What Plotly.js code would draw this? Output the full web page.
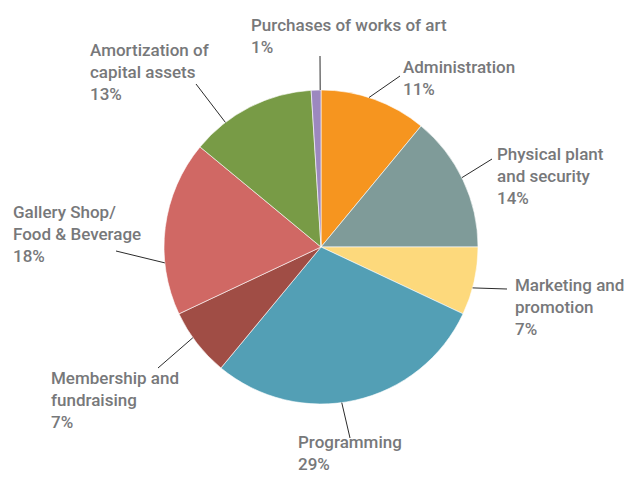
<!DOCTYPE html>
<html>
<head>
<meta charset="utf-8">
<script src="https://cdn.plot.ly/plotly-3.0.1.min.js"></script>
<style>html,body{margin:0;padding:0;background:#fff;}#chart{width:629px;height:477px;}</style>
</head>
<body>
<div id="chart"></div>
<script>
// ---- data ----
const categories = ['Administration', 'Physical plant and security', 'Marketing and promotion', 'Programming',
  'Membership and fundraising', 'Gallery Shop/ Food & Beverage', 'Amortization of capital assets', 'Purchases of works of art'];
const labelText = ['Administration', 'Physical plant<br>and security', 'Marketing and<br>promotion', 'Programming',
  'Membership and<br>fundraising', 'Gallery Shop/<br>Food & Beverage', 'Amortization of<br>capital assets', 'Purchases of works of art'];
const values = [11, 14, 7, 29, 7, 18, 13, 1];
const colors = ['#F6951F', '#7F9B99', '#FDD97C', '#539FB5', '#A04D45', '#D06864', '#789B46', '#9C88BF'];

// ---- layout config (pixels / degrees) ----
const W = 629, H = 477;
const CX = 321, CY = 247, R = 157;
// text box left / first-line centre, leader line end, leader anchor angle tweak (deg)
const labelPos = [
  {tx: 402, ty: 68,  ex: 400, ey: 76,  da: -2},
  {tx: 496, ty: 155, ex: 492, ey: 159, da: -1},
  {tx: 514, ty: 286, ex: 507, ey: 289, da: 2.5},
  {tx: 297, ty: 443, ex: 350, ey: 438, da: 5},
  {tx: 50,  ty: 379, ex: 158, ey: 368, da: 2.5},
  {tx: 12,  ty: 213, ex: 116, ey: 251, da: -13},
  {tx: 89,  ty: 51,  ex: 196, ey: 84,  da: -10.5},
  {tx: 250, ty: 26,  ex: 320, ey: 56,  da: 1.5}
];

const px = x => x / W;
const py = y => 1 - y / H;

const total = values.reduce((a, b) => a + b, 0);
const shapes = [];
const annotations = [];
let cum = 0;
values.forEach((v, i) => {
  const p = labelPos[i];
  const mid = (cum + v / 2) / total * 2 * Math.PI + p.da * Math.PI / 180;
  cum += v;
  const sx = CX + R * Math.sin(mid);
  const sy = CY - R * Math.cos(mid);
  shapes.push({type: 'line', xref: 'paper', yref: 'paper',
    x0: px(sx), y0: py(sy), x1: px(p.ex), y1: py(p.ey),
    line: {color: '#2b2b2b', width: 1}});
  const pct = Math.round(v / total * 100) + '%';
  annotations.push({xref: 'paper', yref: 'paper', x: px(p.tx - 1), y: py(p.ty - 13),
    xanchor: 'left', yanchor: 'top', align: 'left', showarrow: false,
    text: labelText[i] + '<br>' + pct,
    font: {family: 'Roboto, "Open Sans", sans-serif', size: 17, color: '#77787a', weight: 500}});
});

const trace = {
  type: 'pie', labels: categories, values: values, sort: false,
  direction: 'clockwise', rotation: 0, textinfo: 'none', hoverinfo: 'none',
  marker: {colors: colors, line: {color: '#ffffff', width: 0.6}},
  domain: {x: [px(CX - R), px(CX + R)], y: [py(CY + R), py(CY - R)]},
  showlegend: false
};

const layout = {
  width: W, height: H, margin: {l: 0, r: 0, t: 0, b: 0},
  paper_bgcolor: '#ffffff', plot_bgcolor: '#ffffff',
  showlegend: false, shapes: shapes, annotations: annotations
};

Plotly.newPlot('chart', [trace], layout, {displayModeBar: false, staticPlot: true});
</script>
</body>
</html>
